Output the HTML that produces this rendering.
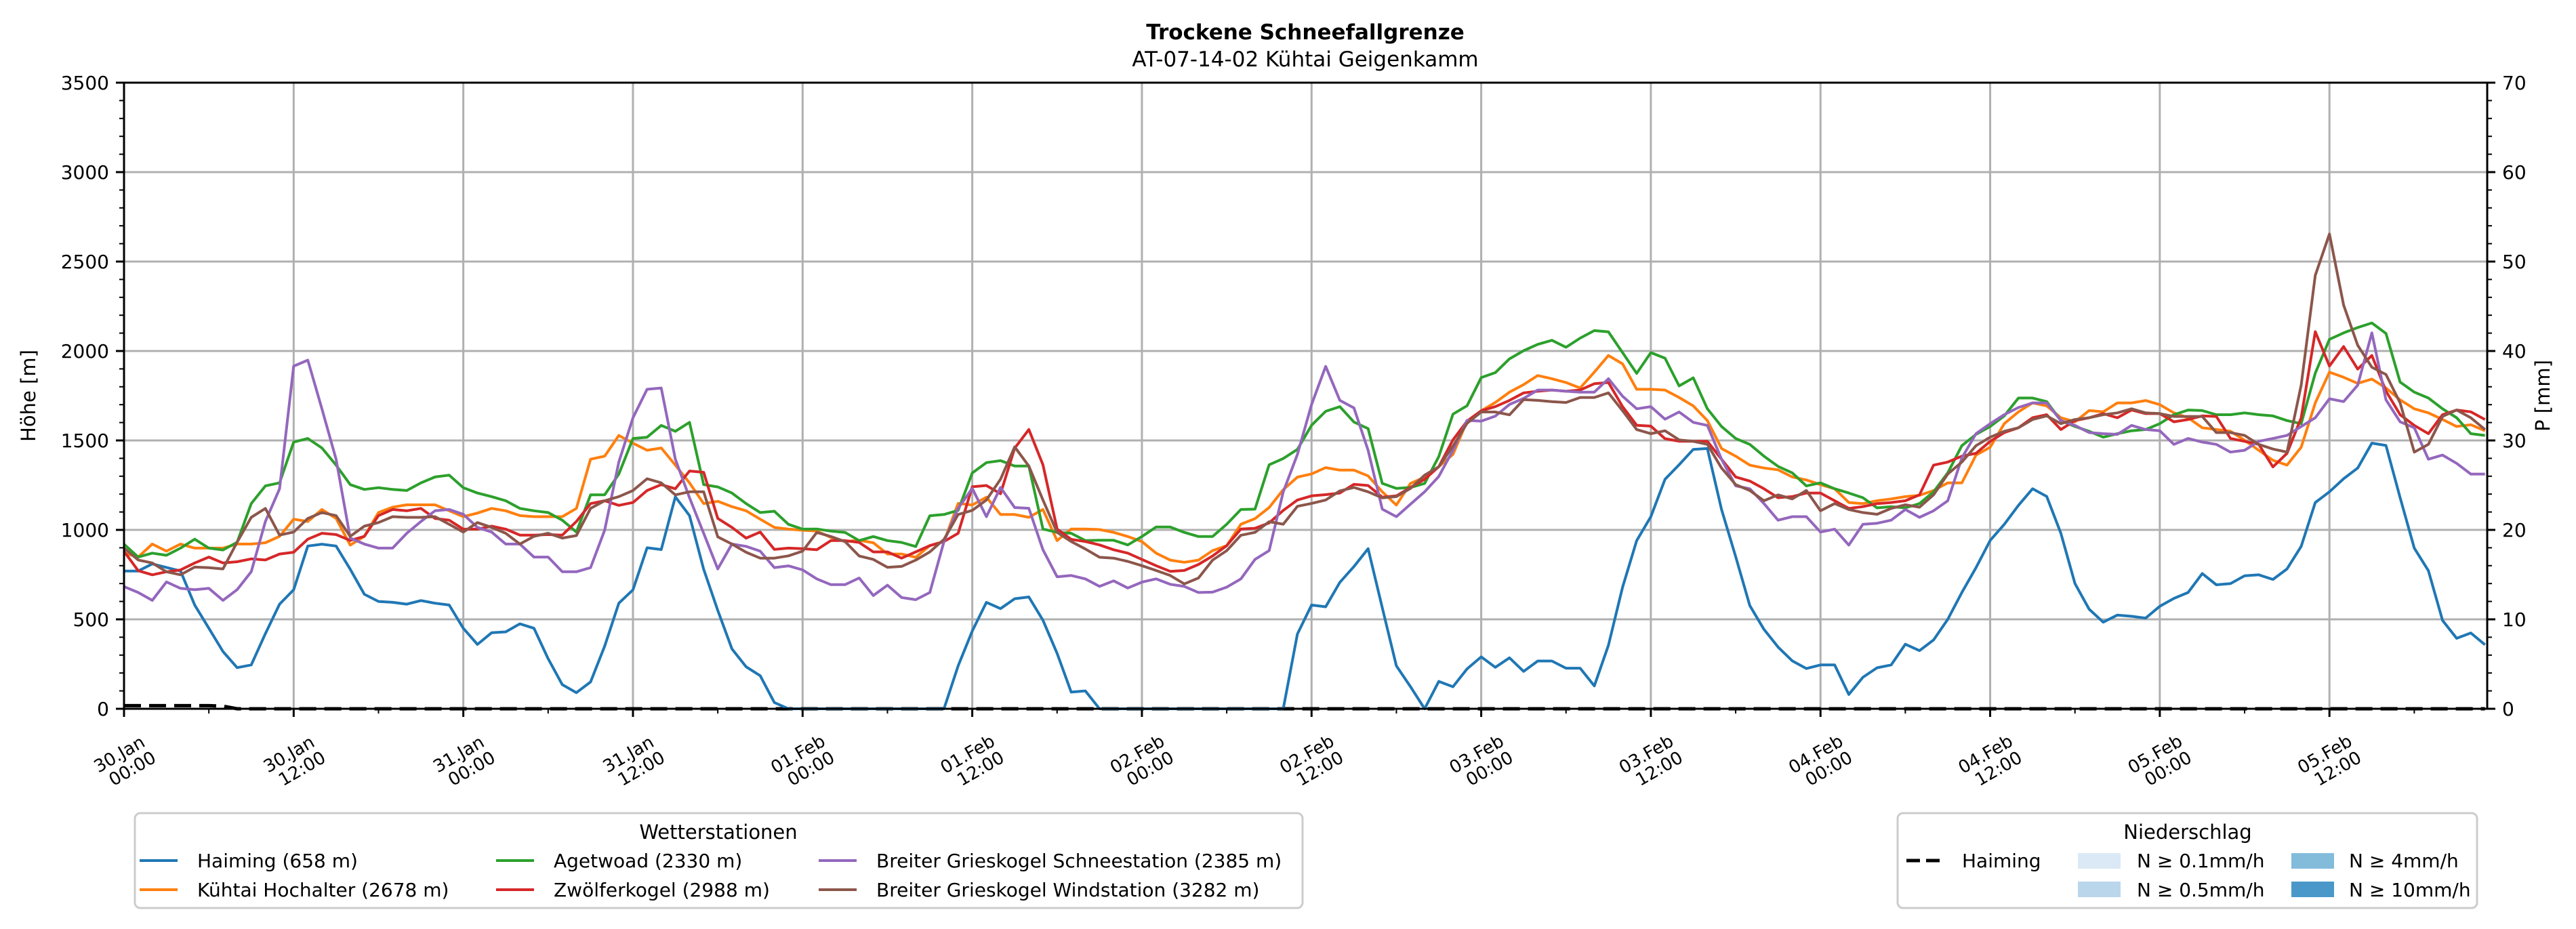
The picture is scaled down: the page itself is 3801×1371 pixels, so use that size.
<!DOCTYPE html>
<html><head><meta charset="utf-8"><title>Trockene Schneefallgrenze</title>
<style>
html,body{margin:0;padding:0;background:#fff;}
svg{display:block;font-family:"DejaVu Sans","Liberation Sans",sans-serif;}
</style></head>
<body>
<svg id="chart" xmlns="http://www.w3.org/2000/svg" width="3801" height="1371" viewBox="0 0 3801 1371">
<rect x="0" y="0" width="3801" height="1371" fill="#fff"/>
<text x="1926" y="58" font-size="31" font-weight="bold" text-anchor="middle">Trockene Schneefallgrenze</text>
<text x="1926" y="98" font-size="31" text-anchor="middle">AT-07-14-02 Kühtai Geigenkamm</text>
<g id="grid"></g>
<g id="series"></g>
<g id="axes"></g>
<text transform="translate(52,584) rotate(-90)" font-size="29" text-anchor="middle">Höhe [m]</text>
<text transform="translate(3762,584) rotate(-90)" font-size="29" text-anchor="middle">P [mm]</text>

<g>
<rect x="199" y="1200" width="1723" height="140" rx="8" fill="#fff" stroke="#cccccc" stroke-width="3"/>
<text x="1060" y="1238" font-size="29" text-anchor="middle">Wetterstationen</text>
<g><line x1="206" y1="1270" x2="262" y2="1270" stroke="#1f77b4" stroke-width="4"/><text x="291" y="1280" font-size="28">Haiming (658 m)</text></g>
<g><line x1="206" y1="1313" x2="262" y2="1313" stroke="#ff7f0e" stroke-width="4"/><text x="291" y="1323" font-size="28">Kühtai Hochalter (2678 m)</text></g>
<g><line x1="732" y1="1270" x2="788" y2="1270" stroke="#2ca02c" stroke-width="4"/><text x="817" y="1280" font-size="28">Agetwoad (2330 m)</text></g>
<g><line x1="732" y1="1313" x2="788" y2="1313" stroke="#d62728" stroke-width="4"/><text x="817" y="1323" font-size="28">Zwölferkogel (2988 m)</text></g>
<g><line x1="1208" y1="1270" x2="1264" y2="1270" stroke="#9467bd" stroke-width="4"/><text x="1293" y="1280" font-size="28">Breiter Grieskogel Schneestation (2385 m)</text></g>
<g><line x1="1208" y1="1313" x2="1264" y2="1313" stroke="#8c564b" stroke-width="4"/><text x="1293" y="1323" font-size="28">Breiter Grieskogel Windstation (3282 m)</text></g>
</g>

<g>
<rect x="2800" y="1200" width="855" height="140" rx="8" fill="#fff" stroke="#cccccc" stroke-width="3"/>
<text x="3228" y="1238" font-size="29" text-anchor="middle">Niederschlag</text>
<g><line x1="2813" y1="1270" x2="2869" y2="1270" stroke="#000" stroke-width="5" stroke-dasharray="20,9"/><text x="2895" y="1280" font-size="28">Haiming</text></g>
<g><rect x="3066" y="1259" width="63" height="23" fill="#dbe9f6"/><text x="3153" y="1280" font-size="28">N ≥ 0.1mm/h</text></g>
<g><rect x="3066" y="1301" width="63" height="23" fill="#bad6eb"/><text x="3153" y="1323" font-size="28">N ≥ 0.5mm/h</text></g>
<g><rect x="3381" y="1259" width="63" height="23" fill="#83bbdb"/><text x="3466" y="1280" font-size="28">N ≥ 4mm/h</text></g>
<g><rect x="3381" y="1301" width="63" height="23" fill="#4a98c9"/><text x="3466" y="1323" font-size="28">N ≥ 10mm/h</text></g>
</g>
</svg>
<script>
// hourly values starting 30.Jan 00:00
const haiming = [770,770,810,790,770,580,450,320,230,245,420,585,665,910,920,910,780,640,600,595,585,605,590,580,450,360,425,430,475,450,280,135,90,150,350,590,665,900,890,1185,1080,780,550,335,235,185,35,0,0,
0,0,0,0,0,0,0,0,0,0,
240,435,595,560,615,625,495,310,93,100,
0,0,0,0,0,0,0,0,0,0,0,0,0,0,
418,580,570,707,795,895,565,240,123,0,153,123,223,290,232,285,209,267,267,227,227,128,355,680,940,1074,1283,1364,1450,1455,
1114,850,577,444,345,268,225,245,245,80,176,229,245,361,325,385,500,650,789,941,1031,1137,1230,1187,981,700,557,484,524,517,507,573,617,650,756,693,700,743,749,723,782,908,1153,1213,1286,1346,1485,1472,1180,898,772,494,394,424,358];
const kuehtai = [870,848,921,881,921,898,898,898,921,921,928,964,1060,1047,1114,1064,915,964,1097,1127,1140,1140,1140,1107,1074,1094,1120,1107,1080,1074,1074,1074,1120,1395,1412,1528,1485,1445,1458,1362,1263,1147,1160,1130,1107,1060,1014,1004,998,
993,958,935,942,928,865,865,847,912,935,1148,1139,1183,1086,1086,1070,1114,940,1005,1005,1002,986,963,935,870,831,819,831,884,912,1032,1063,1125,1225,1295,1313,1348,1334,1334,1302,1213,1139,1260,1295,1353,1422,1608,1666,1712,1770,1812,1863,1845,1824,1793,1882,1975,1928,1786,1786,1782,1740,
1693,1611,1455,1412,1362,1346,1336,1296,1279,1253,1230,1153,1147,1163,1173,1186,1193,1220,1263,1263,1418,1462,1594,1660,1710,1693,1627,1604,1667,1660,1710,1710,1723,1700,1654,1627,1571,1561,1551,1501,1445,1389,1362,1462,1710,1882,1853,1819,1843,1793,1727,1677,1654,1617,1578,1588,1554];
const agetwoad = [920,848,870,858,898,948,898,888,931,1147,1246,1263,1491,1511,1458,1362,1253,1226,1236,1226,1220,1263,1296,1306,1236,1206,1186,1163,1120,1107,1097,1054,988,1196,1196,1312,1511,1518,1584,1551,1601,1253,1240,1206,1147,1097,1104,1031,1004,
1005,993,986,940,963,940,930,907,1079,1086,1109,1318,1376,1387,1357,1357,1005,986,981,940,942,942,916,963,1016,1016,986,963,963,1032,1114,1116,1364,1399,1450,1585,1663,1689,1603,1566,1260,1232,1237,1260,1410,1647,1694,1851,1879,1956,2002,2037,2060,2021,2072,2114,2107,1991,1875,1991,1960,1805,
1850,1677,1578,1511,1478,1412,1355,1319,1246,1263,1230,1206,1180,1123,1130,1123,1147,1213,1319,1471,1534,1578,1637,1737,1737,1717,1611,1578,1551,1518,1538,1554,1561,1594,1644,1670,1667,1644,1644,1654,1644,1637,1611,1594,1876,2065,2101,2131,2157,2098,1826,1770,1737,1677,1627,1538,1528];
const zwoelfer = [880,772,749,766,776,815,848,815,822,838,832,865,875,948,981,974,941,964,1080,1114,1107,1120,1064,1054,1004,1004,1021,1004,971,971,974,971,1047,1147,1163,1137,1153,1220,1253,1230,1329,1322,1064,1014,954,988,891,898,895,
889,940,940,930,877,877,842,877,912,935,981,1241,1248,1202,1457,1561,1364,1005,947,935,916,889,870,835,800,768,773,807,854,912,1005,1009,1039,1109,1167,1190,1197,1206,1255,1248,1183,1190,1237,1283,1353,1503,1608,1666,1689,1724,1766,1775,1782,1775,1782,1817,1824,1689,1585,1580,1510,1496,
1495,1495,1395,1296,1273,1230,1180,1186,1206,1206,1163,1120,1130,1147,1153,1163,1196,1362,1379,1412,1428,1495,1544,1571,1627,1644,1561,1611,1627,1650,1627,1670,1650,1650,1604,1617,1637,1634,1511,1495,1478,1352,1428,1627,2108,1916,2025,1899,1975,1776,1644,1584,1538,1644,1670,1660,1617];
const schnee = [683,650,606,709,673,666,673,606,666,766,1047,1230,1915,1949,1677,1395,954,921,898,898,981,1047,1107,1114,1087,1014,988,921,921,848,848,766,766,789,998,1379,1627,1786,1793,1395,1180,981,782,921,908,881,789,799,776,
726,694,694,731,633,691,622,610,650,935,1121,1232,1074,1237,1125,1121,889,738,745,726,684,715,675,708,726,696,684,650,652,680,726,835,884,1213,1422,1701,1914,1724,1682,1445,1116,1074,1144,1213,1299,1445,1612,1608,1636,1701,1735,1782,1782,1775,1770,1770,1845,1747,1677,1689,1619,1659,
1601,1584,1395,1246,1230,1147,1054,1074,1074,988,1004,915,1031,1037,1054,1114,1070,1107,1163,1402,1538,1594,1644,1684,1710,1710,1611,1584,1544,1538,1534,1584,1561,1554,1478,1511,1491,1478,1435,1445,1495,1511,1528,1578,1627,1733,1717,1809,2101,1727,1604,1571,1395,1418,1372,1312,1312];
const wind = [898,832,815,766,749,792,789,782,931,1070,1120,971,988,1064,1097,1080,964,1021,1041,1074,1070,1070,1074,1031,988,1041,1014,981,921,964,981,954,968,1120,1163,1186,1220,1286,1263,1196,1213,1213,961,921,875,842,842,855,881,
986,963,935,854,835,791,796,831,877,947,1086,1109,1167,1283,1464,1357,1167,986,935,893,847,842,824,800,773,745,698,731,831,884,970,986,1046,1032,1132,1148,1167,1218,1237,1213,1179,1186,1232,1306,1353,1468,1596,1659,1659,1643,1728,1724,1717,1712,1740,1740,1766,1666,1561,1538,1554,1503,
1495,1478,1346,1253,1220,1163,1196,1173,1220,1107,1147,1114,1097,1087,1120,1140,1127,1196,1312,1379,1471,1518,1551,1571,1617,1637,1594,1617,1627,1644,1654,1677,1654,1650,1634,1634,1634,1544,1544,1528,1478,1452,1435,1809,2423,2654,2257,2032,1909,1869,1710,1435,1478,1634,1670,1627,1561];
// Haiming precipitation (mm), hourly
const precipHaiming = [0.35,0.35,0.35,0.35,0.35,0.35,0.35,0.3,0,0];
const xTickLabels = [["30.Jan","00:00"],["30.Jan","12:00"],["31.Jan","00:00"],["31.Jan","12:00"],["01.Feb","00:00"],["01.Feb","12:00"],["02.Feb","00:00"],["02.Feb","12:00"],["03.Feb","00:00"],["03.Feb","12:00"],["04.Feb","00:00"],["04.Feb","12:00"],["05.Feb","00:00"],["05.Feb","12:00"]];
const yTicks = [0,500,1000,1500,2000,2500,3000,3500];
const y2Ticks = [0,10,20,30,40,50,60,70];

const NS='http://www.w3.org/2000/svg';
const L=183,R=3670,T=122,B=1046, XMAX=167.16, YMAX=3500, PMAX=70;
const xS=h=>L+h/XMAX*(R-L);
const yS=v=>B-v/YMAX*(B-T);
const pS=p=>B-p/PMAX*(B-T);
function mk(tag,attrs,parent){const e=document.createElementNS(NS,tag);for(const k in attrs)e.setAttribute(k,attrs[k]);parent.appendChild(e);return e;}
const grid=document.getElementById('grid'),axes=document.getElementById('axes'),ser=document.getElementById('series');

yTicks.forEach(v=>{const g=mk('line',{x1:L,x2:R,y1:yS(v),y2:yS(v),stroke:'#b0b0b0','stroke-width':3},grid);

});
xTickLabels.forEach((lab,i)=>{const g=mk('line',{x1:xS(i*12),x2:xS(i*12),y1:T,y2:B,stroke:'#b0b0b0','stroke-width':3},grid);

});

// precipitation dashed
const pp=precipHaiming.concat(new Array(168-precipHaiming.length).fill(0));
const pl=mk('polyline',{points:pp.map((p,i)=>xS(i)+','+pS(p)).join(' '),fill:'none',stroke:'#000','stroke-width':5,'stroke-dasharray':'25,12'},ser);



const seriesList=[[haiming,'#1f77b4','line-haiming'],[kuehtai,'#ff7f0e','line-kuehtai'],[agetwoad,'#2ca02c','line-agetwoad'],[zwoelfer,'#d62728','line-zwoelferkogel'],[schnee,'#9467bd','line-grieskogel-schnee'],[wind,'#8c564b','line-grieskogel-wind']];
seriesList.forEach(s=>{const e=mk('polyline',{points:s[0].map((v,i)=>xS(i).toFixed(1)+','+yS(v).toFixed(1)).join(' '),fill:'none',stroke:s[1],'stroke-width':4,'stroke-linejoin':'round'},ser);

});

// spines
const fr=mk('rect',{x:L,y:T,width:R-L,height:B-T,fill:'none',stroke:'#000','stroke-width':3},axes);


// y ticks
for(let v=0;v<=YMAX;v+=100){const major=v%500===0;const len=major?12:7;
mk('line',{x1:L-len,x2:L,y1:yS(v),y2:yS(v),stroke:'#000','stroke-width':major?3:2},axes);}
yTicks.forEach(v=>{const t=mk('text',{x:L-22,y:yS(v)+10,'font-size':28,'text-anchor':'end'},axes);t.textContent=v;

});
for(let p=0;p<=PMAX;p+=2){const major=p%10===0;const len=major?12:7;
mk('line',{x1:R,x2:R+len,y1:pS(p),y2:pS(p),stroke:'#000','stroke-width':major?3:2},axes);}
y2Ticks.forEach(p=>{const t=mk('text',{x:R+22,y:pS(p)+10,'font-size':28,'text-anchor':'start'},axes);t.textContent=p;

});
// x ticks
for(let h=0;h<=XMAX;h+=6){const major=h%12===0;const len=major?12:7;
mk('line',{x1:xS(h),x2:xS(h),y1:B,y2:B+len,stroke:'#000','stroke-width':major?3:2},axes);}
xTickLabels.forEach((lab,i)=>{const g=mk('g',{transform:'translate('+xS(i*12)+',1125) rotate(-30)'},axes);


const a=mk('text',{x:0,y:-5,'font-size':26,'text-anchor':'middle'},g);a.textContent=lab[0];
const b=mk('text',{x:6,y:23,'font-size':26,'text-anchor':'middle'},g);b.textContent=lab[1];});
</script>
</body></html>
